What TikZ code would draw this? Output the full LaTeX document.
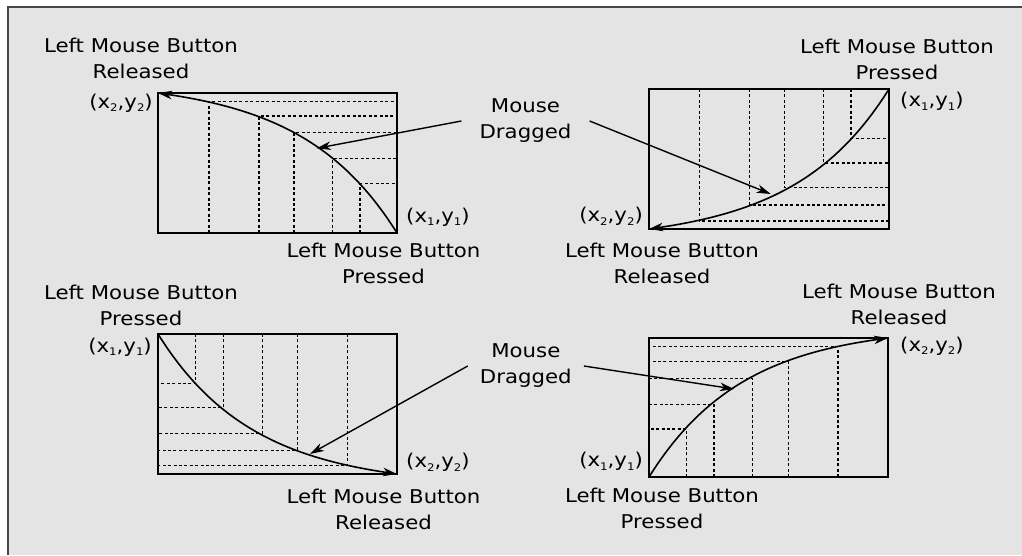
\documentclass[tikz,border=0pt]{standalone}
\usepackage{fontspec}
\newfontfamily\lblfont[FakeStretch=1.12]{DejaVu Sans}
\usetikzlibrary{arrows.meta,positioning}
\definecolor{panelgray}{HTML}{E4E4E4}
\definecolor{edgegray}{HTML}{474747}
\tikzset{
  frame/.style={draw, line width=1.9pt},
  guide/.style={line width=1.1pt, dash pattern=on 3pt off 2.4pt},
  track/.style={line width=1.6pt, -{Stealth[length=14pt,width=8.5pt,inset=4pt]}},
  drag/.style={line width=1.4pt, -{Stealth[length=14pt,width=8.5pt,inset=4pt]}},
  lbl/.style={font=\lblfont\fontsize{19}{26}\selectfont, align=center, inner sep=0pt},
  pt/.style={font=\lblfont\fontsize{19}{20}\selectfont, inner sep=0pt},
}
\newcommand{\lowix}[1]{\raisebox{-0.3ex}{\fontsize{10.5}{10.5}\selectfont #1}}

\begin{document}
\begin{tikzpicture}[x=1pt, y=-1pt]
  \useasboundingbox (0,0) rectangle (1022,555);
  \fill[white] (0,0) rectangle (1022,555);
  \fill[panelgray] (7,7) rectangle (1022,555);
  \draw[edgegray, line width=2pt] (7.5,555) -- (7.5,6.5) -- (1022,6.5);

  % top left: pressed at bottom right, released at top left
  \coordinate (tl1) at (158,93);  \coordinate (br1) at (397,233);
  \foreach \x/\y in {209/101.3, 259/116, 294/132.7, 332.7/158.5, 360/183.7}
    \draw[guide] (\x,233) -- (\x,\y) -- (397,\y);
  \draw[frame] (tl1) rectangle (br1);
  \draw[track] (br1) .. controls (342,145) and (273,110) .. (tl1);
  \node[pt, left=5pt of tl1, yshift=-10pt] (e1) {(x\lowix{2},y\lowix{2})};
  \node[pt, right=9pt of br1, yshift=16pt] (s1) {(x\lowix{1},y\lowix{1})};
  \node[lbl] (rel1) at (141,58.5) {Left Mouse Button\\Released};
  \node[lbl] (prs1) at (383.5,263) {Left Mouse Button\\Pressed};

  % top right: pressed at top right, released at bottom left
  \coordinate (tr2) at (889,89);  \coordinate (bl2) at (649,229);
  \foreach \x/\y in {851/138.3, 823.7/163, 784.3/187.7, 749.7/205, 699.3/221}
    \draw[guide] (\x,89) -- (\x,\y) -- (889,\y);
  \draw[frame] (bl2) rectangle (tr2);
  \draw[track] (tr2) .. controls (834,177) and (765,212) .. (bl2);
  \node[pt, right=11pt of tr2, yshift=-12.7pt] (s2) {(x\lowix{1},y\lowix{1})};
  \node[pt, left=6pt of bl2, yshift=12.3pt] (e2) {(x\lowix{2},y\lowix{2})};
  \node[lbl] (prs2) at (897,59) {Left Mouse Button\\Pressed};
  \node[lbl] (rel2) at (662,263.5) {Left Mouse Button\\Released};

  % bottom left: pressed at top left, released at bottom right
  \coordinate (tl3) at (158,334);  \coordinate (br3) at (397,474);
  \foreach \x/\y in {195.7/383.7, 223.3/407.7, 262.3/433.7, 297.7/450.3, 347.7/465.3}
    \draw[guide] (\x,334) -- (\x,\y) -- (158,\y);
  \draw[frame] (tl3) rectangle (br3);
  \draw[track] (tl3) .. controls (213,422) and (282,457) .. (br3);
  \node[pt, left=6pt of tl3, yshift=-13pt] (s3) {(x\lowix{1},y\lowix{1})};
  \node[pt, right=9pt of br3, yshift=11.3pt] (e3) {(x\lowix{2},y\lowix{2})};
  \node[lbl] (prs3) at (141,305) {Left Mouse Button\\Pressed};
  \node[lbl] (rel3) at (383.5,509) {Left Mouse Button\\Released};

  % bottom right: pressed at bottom left, released at top right
  \coordinate (bl4) at (649,477);  \coordinate (tr4) at (888,338);
  \foreach \x/\y in {686.7/429, 714/404.3, 752.7/378.3, 788.3/361.3, 838/346.3}
    \draw[guide] (\x,477) -- (\x,\y) -- (649,\y);
  \draw[frame] (bl4) rectangle (tr4);
  \draw[track] (bl4) .. controls (704,389) and (773,354) .. (tr4);
  \node[pt, right=12pt of tr4, yshift=-8pt] (e4) {(x\lowix{2},y\lowix{2})};
  \node[pt, left=6pt of bl4, yshift=15.3pt] (s4) {(x\lowix{1},y\lowix{1})};
  \node[lbl] (rel4) at (899,304) {Left Mouse Button\\Released};
  \node[lbl] (prs4) at (662,508) {Left Mouse Button\\Pressed};

  % drag pointers
  \node[lbl, inner xsep=18pt] (drag1) at (525.5,121) {Mouse\\Dragged};
  \node[lbl, inner xsep=12pt] (drag2) at (525.8,366) {Mouse\\Dragged};
  \coordinate (on1) at (316.7,148.3);
  \coordinate (on2) at (770.7,194);
  \coordinate (on3) at (310,454);
  \coordinate (on4) at (734,389);
  \draw[drag] (drag1.west) -- (on1);
  \draw[drag] (drag1.east) -- (on2);
  \draw[drag] (drag2.west) -- (on3);
  \draw[drag] (drag2.east) -- (on4);
\end{tikzpicture}
\end{document}
